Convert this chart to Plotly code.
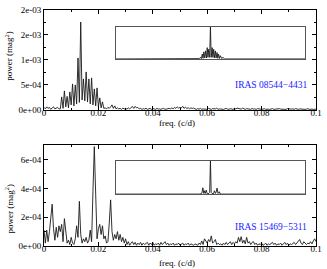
import numpy as np
import plotly.graph_objects as go

# ---------------- data (power in units of 1e-4 mag^2, freq grid step 0.0005 c/d) -------------
freq_step = 0.0005

power_top_1e4 = [
    0.5, 0.2, 0.6, 0.3, 0.5, 0.1, 0.4, 0.6, 0.2, 0.3, 0.5, 0.2,
    0.2, 2.6, 0.3, 3.8, 0.6, 2.7, 0.4, 3.6, 1.0, 5.2, 0.8, 5.0, 1.2, 10.4, 1.5,
    17.6, 2.0, 6.2, 1.8, 7.6, 1.6, 6.2, 1.2, 6.4, 1.0, 4.2, 0.8, 4.4, 0.6, 2.4,
    0.4, 1.6, 0.3,
    0.4, 0.2, 0.5, 0.3, 0.6, 1.0, 0.3, 0.8, 0.2, 0.4, 0.2, 0.3, 0.1, 0.35, 0.2,
    0.3, 0.15, 0.4, 0.2, 0.5, 0.7, 0.3, 0.7, 0.4, 0.5, 0.2,
    0.3, 0.1, 0.25, 0.15, 0.35, 0.1, 0.2, 0.3, 0.1, 0.25, 0.2, 0.1, 0.3, 0.15,
    0.2, 0.1, 0.25, 0.3, 0.1, 0.2, 0.15, 0.3, 0.2,
    0.4, 0.2, 0.5, 0.3, 0.6, 0.35, 0.5, 0.4, 0.7, 0.3, 0.55, 0.25, 0.45, 0.2,
    0.4, 0.3, 0.35,
    0.2, 0.1, 0.25, 0.15, 0.3, 0.1, 0.2, 0.15, 0.25, 0.1,
    0.3, 0.2, 0.1, 0.25, 0.15, 0.2, 0.35, 0.1, 0.2, 0.15,
    0.25, 0.1, 0.2, 0.3, 0.15, 0.1, 0.25, 0.2, 0.1, 0.3,
    0.2, 0.35, 0.25, 0.3, 0.15, 0.35, 0.2, 0.1, 0.25, 0.15,
    0.2, 0.1, 0.3, 0.15, 0.2, 0.1, 0.25, 0.15, 0.2, 0.1,
    0.15, 0.25, 0.1, 0.2, 0.15, 0.1, 0.2, 0.25, 0.1, 0.15,
    0.2, 0.1, 0.25, 0.15, 0.1, 0.2, 0.15, 0.1, 0.25, 0.2,
    0.1, 0.15, 0.2, 0.1, 0.25, 0.15, 0.1, 0.2, 0.15, 0.1,
    0.2, 0.1, 0.15, 0.25, 0.1, 0.2, 0.15, 0.1, 0.2, 0.15,
]

power_bot_1e4 = [
    1.1, 0.2, 1.1, 0.3, 1.0, 2.3, 2.9, 1.2, 0.4, 1.3,
    0.6, 1.4, 1.0, 1.5, 0.3, 1.9, 0.8, 0.2, 0.4, 0.1,
    0.6, 0.2, 0.1, 0.5, 1.4, 0.6, 3.1, 0.8, 0.2, 0.5,
    0.3, 0.6, 0.2, 0.4, 1.1, 0.3, 3.8, 6.9, 3.6, 0.5,
    1.2, 1.5, 0.8, 1.4, 0.5, 0.7, 0.2, 0.3, 1.6, 3.2,
    1.0, 0.4, 0.8, 0.5, 1.0, 0.4, 0.8, 0.3, 0.6, 0.2,
    0.5, 0.1, 0.3, 0.05, 0.2, 0.3, 0.1, 0.25,
    0.05, 0.2, 0.1, 0.25, 0.05, 0.2, 0.1, 0.15, 0.25, 0.05,
    0.2, 0.1, 0.25, 0.05, 0.15, 0.1, 0.2, 0.05, 0.25, 0.1,
    0.2, 0.3, 0.1, 0.2, 0.05, 0.15, 0.1, 0.2, 0.05, 0.15,
    0.1, 0.2, 0.05, 0.1, 0.2, 0.05, 0.15, 0.1, 0.2, 0.05,
    0.15, 0.1, 0.05, 0.15, 0.1, 0.05, 0.2, 0.1, 0.35, 0.1,
    0.5, 0.3, 0.2, 0.45, 0.3, 0.7, 0.2, 0.3, 0.45, 0.1,
    0.2, 0.1, 0.15, 0.05, 0.2, 0.1, 0.25, 0.1, 0.2, 0.3,
    0.1, 0.25, 0.15, 0.3, 0.2, 0.6, 0.3, 0.65, 0.2, 0.4,
    0.15, 0.6, 0.2, 0.3, 0.1, 0.25, 0.3, 0.1, 0.2, 0.05,
    0.15, 0.1, 0.2, 0.05, 0.1, 0.2, 0.05, 0.15, 0.1, 0.2,
    0.25, 0.1, 0.2, 0.05, 0.15, 0.1, 0.2, 0.05, 0.15, 0.25,
    0.1, 0.2, 0.05, 0.15, 0.1, 0.2, 0.25, 0.1, 0.2, 0.3,
    0.45, 0.2, 0.1, 0.3, 0.2, 0.1, 0.2, 0.15, 0.3, 0.15,
    0.35, 0.5, 0.3,
]

# spectral windows shown in the insets (frequency offset, normalised power)
win_top_df = [-0.05, -0.0075, -0.0066, -0.0059, -0.0053, -0.0048, -0.0043, -0.0039, -0.0035,
              -0.003, -0.0026, -0.0021, -0.0017, -0.0013, -0.0009, -0.0004, 0.0, 0.0004,
              0.0009, 0.0013, 0.0017, 0.0021, 0.0026, 0.003, 0.0035, 0.0039, 0.0043,
              0.0048, 0.0053, 0.0059, 0.0066, 0.0075, 0.05]
win_top_pw = [0.0, 0.0, 0.02, 0.01, 0.05, 0.01, 0.15, 0.02, 0.22,
              0.03, 0.25, 0.03, 0.35, 0.05, 0.3, 0.05, 1.0, 0.05,
              0.35, 0.05, 0.3, 0.03, 0.25, 0.03, 0.2, 0.02, 0.15,
              0.02, 0.1, 0.01, 0.05, 0.0, 0.0]

win_bot_df = [-0.05, -0.0055, -0.0045, -0.004, -0.0035, -0.0031, -0.0027, -0.0022, -0.0017,
              -0.0008, -0.0004, 0.0, 0.0004, 0.0008, 0.0016, 0.0021, 0.0026, 0.003,
              0.0035, 0.004, 0.0047, 0.0052, 0.05]
win_bot_pw = [0.0, 0.0, 0.03, 0.19, 0.02, 0.1, 0.02, 0.12, 0.01,
              0.02, 0.05, 1.0, 0.05, 0.02, 0.01, 0.1, 0.02, 0.06,
              0.18, 0.02, 0.07, 0.0, 0.0]

x_tickvals = [0, 0.02, 0.04, 0.06, 0.08, 0.1]
x_ticktext = ["0", "0.02", "0.04", "0.06", "0.08", "0.1"]
ytop_tickvals = [0, 5e-4, 1e-3, 1.5e-3, 2e-3]
ytop_ticktext = ["0e+00", "5e-04", "1e-03", "2e-03", "2e-03"]
ybot_tickvals = [0, 2e-4, 4e-4, 6e-4]
ybot_ticktext = ["0e+00", "2e-04", "4e-04", "6e-04"]

star_top = "IRAS 08544\u22124431"
star_bot = "IRAS 15469\u22125311"
x_title = "freq. (c/d)"
y_title = "power (mag<sup>2</sup>)"

# ---------------- figure -------------
freq_top = np.arange(len(power_top_1e4)) * freq_step
freq_bot = np.arange(len(power_bot_1e4)) * freq_step
power_top = np.array(power_top_1e4) * 1e-4
power_bot = np.array(power_bot_1e4) * 1e-4

W, H = 327, 269
ml, mr, mt, mb = 44, 6, 5, 23
pw, ph = W - ml - mr, H - mt - mb


def px_x(x):
    return (x - ml) / pw


def px_y(y):
    return (H - mb - y) / ph


FONT = "Liberation Serif, Times New Roman, serif"
line_style = dict(color="#1a1a1a", width=0.9)

fig = go.Figure()
fig.add_trace(go.Scatter(x=freq_top, y=power_top, mode="lines", line=line_style,
                         xaxis="x", yaxis="y", showlegend=False))
fig.add_trace(go.Scatter(x=freq_bot, y=power_bot, mode="lines", line=line_style,
                         xaxis="x2", yaxis="y2", showlegend=False))
fig.add_trace(go.Scatter(x=win_top_df, y=win_top_pw, mode="lines", line=line_style,
                         xaxis="x3", yaxis="y3", showlegend=False))
fig.add_trace(go.Scatter(x=win_bot_df, y=win_bot_pw, mode="lines", line=line_style,
                         xaxis="x4", yaxis="y4", showlegend=False))

main_ax = dict(showline=True, linecolor="black", linewidth=1, mirror="ticks",
               ticks="inside", ticklen=4, tickcolor="black", tickwidth=1,
               showgrid=False, zeroline=False,
               tickfont=dict(family=FONT, size=9, color="black"))

ytop_dom = [px_y(107), 1.0]
ybot_dom = [0.0, px_y(143)]

fig.update_layout(
    width=W, height=H,
    margin=dict(l=ml, r=mr, t=mt, b=mb),
    paper_bgcolor="white", plot_bgcolor="white",
    font=dict(family=FONT, size=9, color="black"),
    xaxis=dict(main_ax, domain=[0, 1], anchor="y", range=[0, 0.1],
               tickmode="array", tickvals=x_tickvals, ticktext=x_ticktext,
               ticklabelstandoff=-6,
               minor=dict(ticks="inside", ticklen=2, dtick=0.01, tick0=0, tickcolor="black")),
    yaxis=dict(main_ax, domain=ytop_dom, anchor="x", range=[0, 2e-3],
               tickmode="array", tickvals=ytop_tickvals, ticktext=ytop_ticktext,
               minor=dict(ticks="inside", ticklen=2, dtick=2.5e-4, tick0=0, tickcolor="black")),
    xaxis2=dict(main_ax, domain=[0, 1], anchor="y2", range=[0, 0.1],
                tickmode="array", tickvals=x_tickvals, ticktext=x_ticktext,
                ticklabelstandoff=-6,
                minor=dict(ticks="inside", ticklen=2, dtick=0.01, tick0=0, tickcolor="black")),
    yaxis2=dict(main_ax, domain=ybot_dom, anchor="x2", range=[0, 7e-4],
                tickmode="array", tickvals=ybot_tickvals, ticktext=ybot_ticktext,
                minor=dict(ticks="inside", ticklen=2, dtick=1e-4, tick0=0, tickcolor="black")),
)

inset_ax = dict(showline=True, linecolor="#555555", linewidth=1, mirror=True,
                ticks="", showticklabels=False, showgrid=False, zeroline=False)
ins_x = [px_x(117), px_x(310)]
fig.update_layout(
    xaxis3=dict(inset_ax, domain=ins_x, anchor="y3", range=[-0.05, 0.05]),
    yaxis3=dict(inset_ax, domain=[px_y(55), px_y(22)], anchor="x3", range=[0, 1.0]),
    xaxis4=dict(inset_ax, domain=ins_x, anchor="y4", range=[-0.05, 0.05]),
    yaxis4=dict(inset_ax, domain=[px_y(193), px_y(159)], anchor="x4", range=[0, 1.0]),
)

ann = []
ann.append(dict(text=star_top, x=px_x(314), y=px_y(82), xref="paper", yref="paper",
                xanchor="right", yanchor="middle", showarrow=False,
                font=dict(family=FONT, size=9.5, color="#1a1aff")))
ann.append(dict(text=star_bot, x=px_x(314), y=px_y(227), xref="paper", yref="paper",
                xanchor="right", yanchor="middle", showarrow=False,
                font=dict(family=FONT, size=9.5, color="#1a1aff")))
for yc in (120, 263):
    ann.append(dict(text=x_title, x=px_x(179), y=px_y(yc), xref="paper", yref="paper",
                    xanchor="center", yanchor="middle", showarrow=False,
                    font=dict(family=FONT, size=9)))
for yc in (52, 208):
    ann.append(dict(text=y_title, x=px_x(8), y=px_y(yc), xref="paper", yref="paper",
                    xanchor="center", yanchor="middle", showarrow=False, textangle=-90,
                    font=dict(family=FONT, size=9)))
fig.update_layout(annotations=ann)

fig.write_html("out.html", config={"displayModeBar": False},
               post_script="document.body.style.margin='0';document.body.style.overflow='hidden';")
